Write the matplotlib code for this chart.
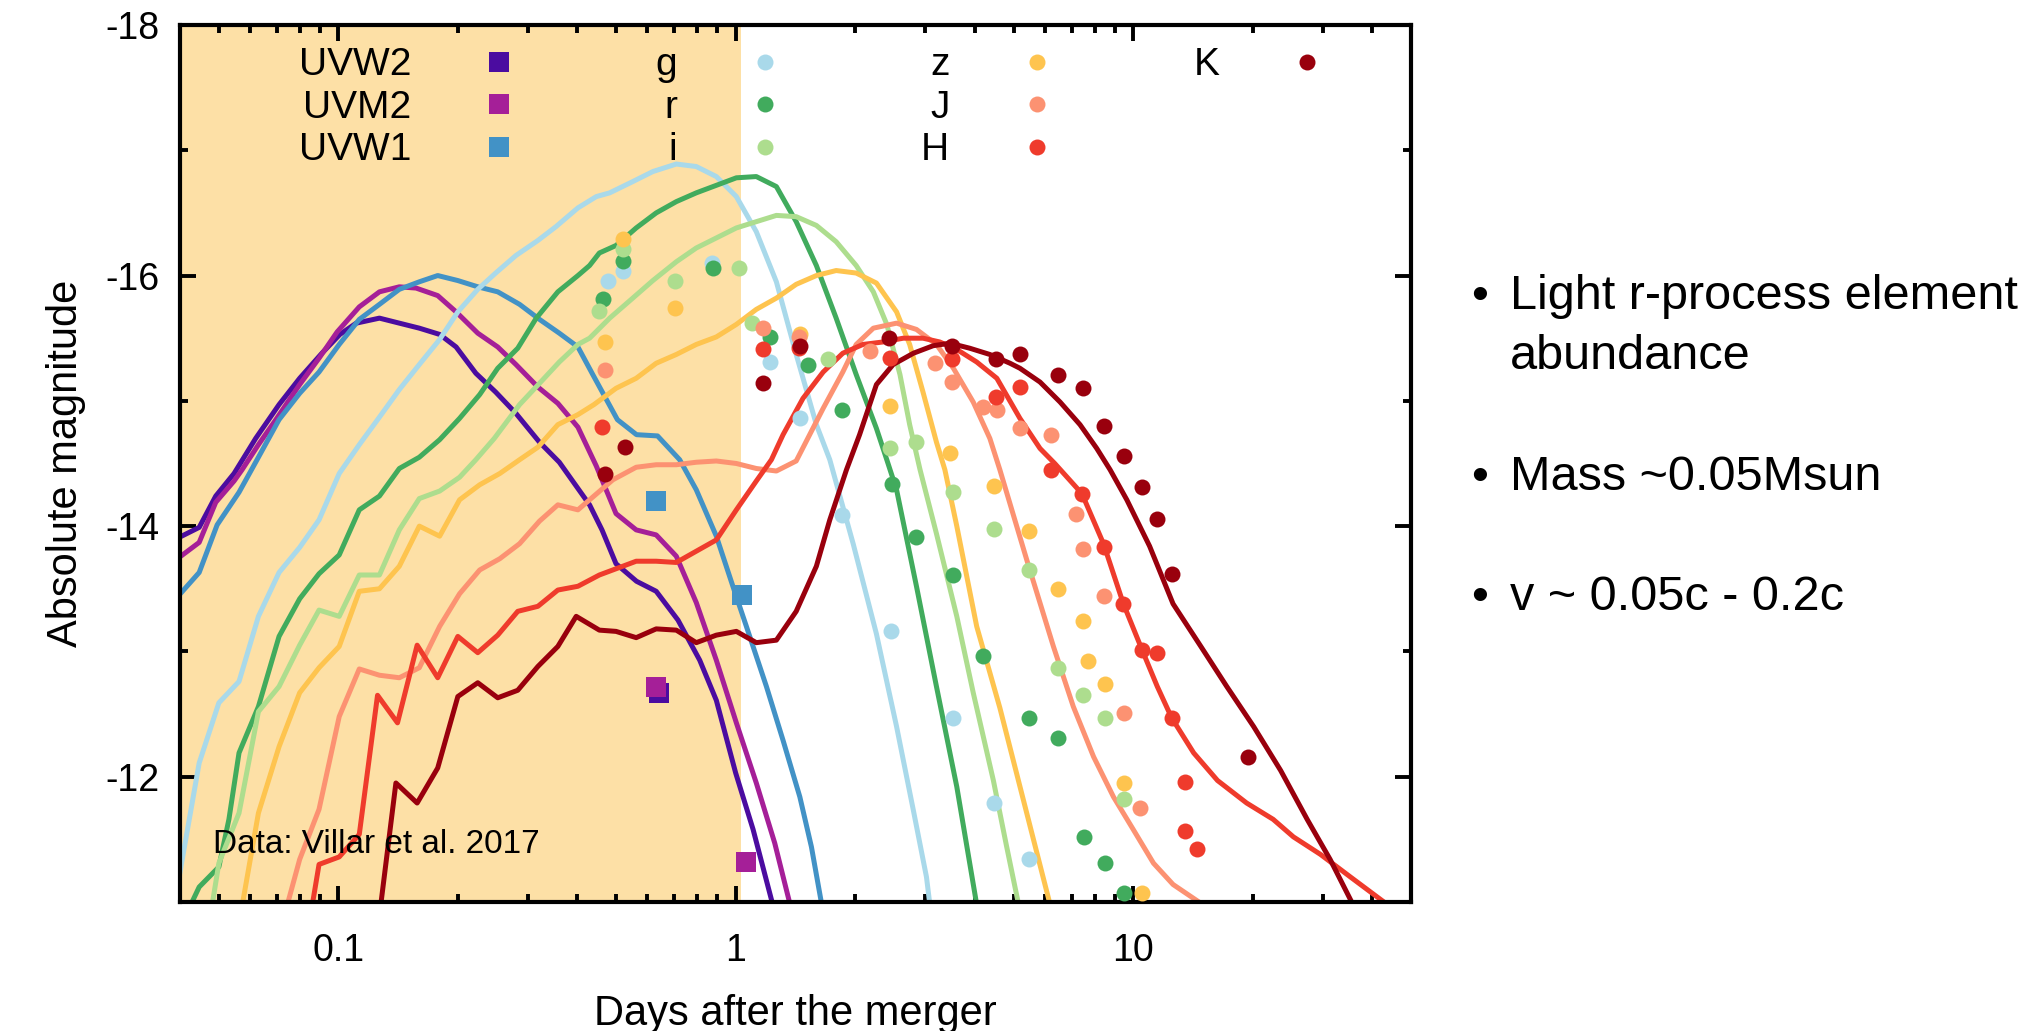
import matplotlib.pyplot as plt
from matplotlib.lines import Line2D
from matplotlib.ticker import FixedLocator, LogLocator, NullFormatter

plt.rcParams['font.family'] = ['Liberation Sans', 'DejaVu Sans']
plt.rcParams['axes.unicode_minus'] = False

bands = ['UVW2', 'UVM2', 'UVW1', 'g', 'r', 'i', 'z', 'J', 'H', 'K']
colors = ['#4b0ca0', '#a51f98', '#4292c6', '#a9d9ea', '#41ab5d',
          '#addd8e', '#fec44f', '#fc9272', '#ef3b2c', '#99000d']
markers = ['s', 's', 's', 'o', 'o', 'o', 'o', 'o', 'o', 'o']

# model light curves: days after merger, absolute magnitude
uvw2_t = [0.0398, 0.0447, 0.0492, 0.0547, 0.062, 0.071, 0.080, 0.091, 0.101, 0.111, 0.127,
          0.1425, 0.160, 0.180, 0.198, 0.222, 0.249, 0.280, 0.321, 0.360, 0.395, 0.429,
          0.461, 0.50, 0.563, 0.631, 0.716, 0.812, 0.894, 1.0, 1.106, 1.23, 1.26]
uvw2_m = [-13.91, -13.99, -14.24, -14.42, -14.70, -14.97, -15.18, -15.38, -15.53, -15.62, -15.66,
          -15.62, -15.58, -15.53, -15.43, -15.22, -15.07, -14.90, -14.67, -14.51, -14.33, -14.17,
          -13.97, -13.70, -13.56, -13.48, -13.25, -12.93, -12.61, -12.03, -11.58, -11.02, -10.9]

uvm2_t = [0.0398, 0.0447, 0.0492, 0.0547, 0.0573, 0.063, 0.0697, 0.080, 0.0895, 0.0994, 0.113,
          0.127, 0.1425, 0.157, 0.178, 0.198, 0.2245, 0.252, 0.280, 0.318, 0.357, 0.401,
          0.446, 0.50, 0.562, 0.631, 0.709, 0.796, 0.894, 1.004, 1.127, 1.254, 1.368]
uvm2_m = [-13.75, -13.87, -14.19, -14.36, -14.45, -14.65, -14.85, -15.13, -15.34, -15.55, -15.75,
          -15.87, -15.91, -15.90, -15.84, -15.71, -15.54, -15.43, -15.29, -15.11, -14.98, -14.79,
          -14.48, -14.10, -13.97, -13.93, -13.76, -13.39, -12.93, -12.43, -11.95, -11.47, -10.99]

uvw1_t = [0.0398, 0.0447, 0.0496, 0.0563, 0.0625, 0.071, 0.080, 0.0895, 0.1006, 0.113,
          0.127, 0.1425, 0.160, 0.178, 0.200, 0.2245, 0.252, 0.286, 0.321, 0.360,
          0.401, 0.437, 0.504, 0.563, 0.636, 0.723, 0.796, 0.894, 0.984, 1.064,
          1.195, 1.316, 1.45, 1.551, 1.644]
uvw1_m = [-13.45, -13.63, -14.01, -14.27, -14.53, -14.85, -15.06, -15.23, -15.45, -15.65,
          -15.77, -15.89, -15.95, -16.00, -15.96, -15.91, -15.87, -15.77, -15.65, -15.54,
          -15.43, -15.21, -14.85, -14.73, -14.72, -14.53, -14.29, -13.92, -13.52, -13.20,
          -12.72, -12.29, -11.84, -11.44, -10.99]

g_t = [0.0398, 0.0447, 0.0501, 0.0563, 0.063, 0.071, 0.080, 0.0895, 0.1006, 0.113,
       0.127, 0.1425, 0.160, 0.180, 0.200, 0.2245, 0.249, 0.280, 0.318, 0.353,
       0.401, 0.446, 0.482, 0.551, 0.619, 0.709, 0.796, 0.894, 1.004, 1.127,
       1.266, 1.42, 1.596, 1.725, 1.975, 2.26, 2.54, 2.80, 3.02, 3.08]
g_m = [-11.20, -12.11, -12.59, -12.76, -13.28, -13.63, -13.83, -14.05, -14.42, -14.65,
       -14.87, -15.09, -15.29, -15.49, -15.71, -15.89, -16.02, -16.16, -16.28, -16.39,
       -16.54, -16.63, -16.66, -16.75, -16.83, -16.89, -16.87, -16.79, -16.63, -16.35,
       -15.95, -15.37, -14.81, -14.53, -13.86, -13.14, -12.40, -11.73, -11.20, -10.98]

r_t = [0.0426, 0.0447, 0.0501, 0.0531, 0.0563, 0.063, 0.071, 0.080, 0.0895, 0.1006,
       0.113, 0.127, 0.1425, 0.160, 0.180, 0.202, 0.227, 0.252, 0.283, 0.315,
       0.357, 0.401, 0.429, 0.454, 0.50, 0.562, 0.631, 0.709, 0.796, 0.894,
       1.004, 1.127, 1.266, 1.42, 1.596, 1.79, 2.01, 2.26, 2.40, 2.54,
       2.85, 3.20, 3.60, 4.04]
r_m = [-10.98, -11.12, -11.28, -11.66, -12.19, -12.56, -13.12, -13.42, -13.62, -13.77,
       -14.13, -14.24, -14.46, -14.55, -14.69, -14.86, -15.05, -15.26, -15.42, -15.66,
       -15.87, -16.00, -16.08, -16.18, -16.24, -16.38, -16.50, -16.59, -16.66, -16.72,
       -16.78, -16.79, -16.71, -16.43, -16.08, -15.66, -15.21, -14.78, -14.53, -14.29,
       -13.52, -12.72, -11.92, -10.98]

i_t = [0.0482, 0.0501, 0.0563, 0.063, 0.071, 0.080, 0.0895, 0.1006, 0.113, 0.127,
       0.1425, 0.160, 0.180, 0.202, 0.222, 0.247, 0.286, 0.321, 0.360, 0.401,
       0.429, 0.482, 0.551, 0.619, 0.709, 0.796, 0.894, 1.004, 1.127, 1.266,
       1.42, 1.596, 1.79, 2.01, 2.22, 2.40, 2.59, 2.74, 2.91, 3.20,
       3.60, 3.96, 4.45, 4.80, 5.15]
i_m = [-10.98, -11.31, -11.71, -12.52, -12.72, -13.05, -13.33, -13.28, -13.61, -13.61,
       -13.97, -14.22, -14.28, -14.39, -14.53, -14.70, -14.97, -15.14, -15.31, -15.45,
       -15.50, -15.66, -15.82, -15.96, -16.11, -16.22, -16.30, -16.38, -16.43, -16.48,
       -16.47, -16.40, -16.27, -16.08, -15.87, -15.61, -15.21, -14.81, -14.45, -13.94,
       -13.28, -12.67, -11.97, -11.45, -10.98]

z_t = [0.0574, 0.063, 0.071, 0.080, 0.0895, 0.1006, 0.113, 0.127, 0.1425, 0.160,
       0.180, 0.202, 0.227, 0.255, 0.286, 0.318, 0.357, 0.401, 0.44, 0.50,
       0.562, 0.631, 0.709, 0.796, 0.894, 1.004, 1.127, 1.266, 1.42, 1.596,
       1.79, 2.01, 2.26, 2.54, 2.74, 2.96, 3.20, 3.36, 3.60, 4.04,
       4.62, 6.18]
z_m = [-10.98, -11.71, -12.24, -12.67, -12.87, -13.04, -13.48, -13.50, -13.68, -14.00,
       -13.92, -14.21, -14.33, -14.42, -14.53, -14.63, -14.81, -14.89, -14.97, -15.10,
       -15.18, -15.30, -15.37, -15.45, -15.51, -15.61, -15.73, -15.82, -15.93, -16.00,
       -16.04, -16.02, -15.94, -15.71, -15.45, -15.07, -14.67, -14.45, -14.00, -13.20,
       -12.55, -10.98]

j_t = [0.0745, 0.080, 0.0895, 0.1006, 0.113, 0.127, 0.1425, 0.160, 0.180, 0.202,
       0.227, 0.255, 0.286, 0.321, 0.357, 0.401, 0.429, 0.491, 0.562, 0.631,
       0.709, 0.796, 0.894, 1.004, 1.127, 1.266, 1.42, 1.66, 1.86, 2.01,
       2.22, 2.54, 2.85, 3.20, 3.53, 3.96, 4.36, 4.62, 5.40, 6.30,
       7.07, 7.95, 8.92, 10.0, 11.25, 12.6, 14.8]
j_m = [-10.98, -11.34, -11.74, -12.48, -12.86, -12.81, -12.79, -12.87, -13.20, -13.46,
       -13.65, -13.74, -13.86, -14.04, -14.17, -14.13, -14.21, -14.37, -14.47, -14.49,
       -14.49, -14.51, -14.52, -14.50, -14.46, -14.44, -14.52, -14.94, -15.23, -15.45,
       -15.58, -15.62, -15.57, -15.45, -15.26, -14.99, -14.70, -14.45, -13.73, -13.04,
       -12.56, -12.16, -11.84, -11.58, -11.31, -11.14, -10.99]

h_t = [0.0861, 0.0895, 0.1006, 0.113, 0.1256, 0.141, 0.158, 0.178, 0.200, 0.2245,
       0.252, 0.283, 0.318, 0.357, 0.401, 0.454, 0.562, 0.631, 0.709, 0.796,
       0.894, 1.004, 1.127, 1.23, 1.316, 1.477, 1.66, 1.86, 2.09, 2.35,
       2.64, 2.96, 3.26, 3.60, 4.04, 4.54, 5.19, 5.83, 6.35, 7.43,
       8.42, 9.45, 10.6, 11.5, 12.5, 14.2, 16.3, 19.3, 22.5, 25.3,
       29.6, 35.2, 43.6]
h_m = [-10.98, -11.30, -11.36, -11.54, -12.65, -12.43, -13.05, -12.79, -13.12, -12.99,
       -13.13, -13.32, -13.36, -13.49, -13.52, -13.61, -13.72, -13.72, -13.71, -13.80,
       -13.89, -14.13, -14.36, -14.53, -14.73, -15.02, -15.23, -15.38, -15.45, -15.47,
       -15.50, -15.50, -15.47, -15.41, -15.31, -15.18, -14.86, -14.62, -14.50, -14.26,
       -13.86, -13.38, -12.99, -12.72, -12.47, -12.19, -11.97, -11.79, -11.66, -11.52,
       -11.38, -11.20, -10.98]

k_t = [0.128, 0.1397, 0.158, 0.178, 0.200, 0.2245, 0.252, 0.283, 0.318, 0.357,
       0.397, 0.454, 0.50, 0.562, 0.631, 0.709, 0.796, 0.894, 1.004, 1.127,
       1.266, 1.42, 1.596, 1.725, 1.90, 2.05, 2.26, 2.49, 2.80, 3.14,
       3.46, 3.88, 4.36, 4.90, 5.19, 5.83, 6.55, 7.35, 8.10, 8.75,
       9.64, 11.0, 12.6, 14.8, 17.2, 20.1, 23.5, 27.4, 31.3, 35.2]
k_m = [-10.98, -11.95, -11.79, -12.07, -12.64, -12.75, -12.63, -12.69, -12.88, -13.04,
       -13.28, -13.17, -13.16, -13.11, -13.18, -13.17, -13.07, -13.13, -13.16, -13.07,
       -13.09, -13.32, -13.68, -14.05, -14.45, -14.73, -15.13, -15.29, -15.38, -15.44,
       -15.46, -15.42, -15.37, -15.30, -15.26, -15.15, -14.99, -14.81, -14.62, -14.45,
       -14.21, -13.84, -13.38, -13.04, -12.72, -12.40, -12.05, -11.66, -11.34, -11.02]

# observed photometry (Villar et al. 2017)
uvw2_obs_t = [0.643]
uvw2_obs_m = [-12.67]
uvm2_obs_t = [0.629, 1.064]
uvm2_obs_m = [-12.72, -11.32]
uvw1_obs_t = [0.631, 1.04]
uvw1_obs_m = [-14.20, -13.45]
g_obs_t = [0.477, 0.52, 0.874, 1.22, 1.45, 1.85, 2.46, 3.53, 4.47, 5.48]
g_obs_m = [-15.96, -16.04, -16.10, -15.31, -14.86, -14.09, -13.16, -12.47, -11.79, -11.34]
r_obs_t = [0.463, 0.52, 0.877, 1.22, 1.52, 1.85, 2.48, 2.84, 3.53, 4.20, 5.48, 6.48, 7.54, 8.50, 9.49]
r_obs_m = [-15.81, -16.12, -16.06, -15.51, -15.29, -14.93, -14.34, -13.91, -13.61, -12.96,
           -12.47, -12.31, -11.52, -11.31, -11.07]
i_obs_t = [0.453, 0.52, 0.702, 1.02, 1.10, 1.71, 2.44, 2.84, 3.53, 4.47, 5.47, 6.46, 7.50, 8.50, 9.51]
i_obs_m = [-15.72, -16.21, -15.96, -16.06, -15.62, -15.33, -14.62, -14.67, -14.27, -13.98,
           -13.65, -12.87, -12.65, -12.47, -11.82]
z_obs_t = [0.470, 0.52, 0.702, 1.45, 2.44, 3.46, 4.47, 5.47, 6.46, 7.47, 7.72, 8.50, 9.49, 10.5]
z_obs_m = [-15.47, -16.29, -15.74, -15.53, -14.96, -14.58, -14.32, -13.96, -13.50, -13.24,
           -12.92, -12.74, -11.95, -11.07]
j_obs_t = [0.470, 1.17, 1.44, 2.18, 3.17, 3.51, 4.20, 4.54, 5.19, 6.22, 7.18, 7.50, 8.47, 9.49, 10.4]
j_obs_m = [-15.25, -15.58, -15.51, -15.40, -15.30, -15.15, -14.95, -14.93, -14.78, -14.73,
           -14.10, -13.82, -13.44, -12.51, -11.75]
h_obs_t = [0.462, 1.17, 1.44, 2.44, 3.51, 4.51, 5.19, 6.22, 7.43, 8.47, 9.45, 10.5, 11.5,
           12.5, 13.5, 13.5, 14.5]
h_obs_m = [-14.79, -15.41, -15.42, -15.34, -15.33, -15.03, -15.11, -14.45, -14.26, -13.83,
           -13.38, -13.01, -12.99, -12.47, -11.96, -11.57, -11.42]
k_obs_t = [0.468, 0.526, 1.17, 1.45, 2.43, 3.51, 4.51, 5.19, 6.48, 7.47, 8.47, 9.49, 10.5,
           11.5, 12.5, 19.5]
k_obs_m = [-14.42, -14.63, -15.14, -15.44, -15.50, -15.44, -15.33, -15.37, -15.21, -15.10,
           -14.80, -14.56, -14.31, -14.06, -13.62, -12.16]

model_t = [uvw2_t, uvm2_t, uvw1_t, g_t, r_t, i_t, z_t, j_t, h_t, k_t]
model_m = [uvw2_m, uvm2_m, uvw1_m, g_m, r_m, i_m, z_m, j_m, h_m, k_m]
obs_t = [uvw2_obs_t, uvm2_obs_t, uvw1_obs_t, g_obs_t, r_obs_t, i_obs_t,
         z_obs_t, j_obs_t, h_obs_t, k_obs_t]
obs_m = [uvw2_obs_m, uvm2_obs_m, uvw1_obs_m, g_obs_m, r_obs_m, i_obs_m,
         z_obs_m, j_obs_m, h_obs_m, k_obs_m]

fig = plt.figure(figsize=(20.34, 10.31), dpi=100)
ax = fig.add_axes([0.0885, 0.1251, 0.6052, 0.8507])

# first day after the merger
ax.axvspan(0.01, 1.03, color='#fde0a6', lw=0, zorder=0)

for t, m, c in zip(model_t, model_m, colors):
    ax.plot(t, m, color=c, lw=3.6, zorder=2)

handles = []
for t, m, c, mk, name in zip(obs_t, obs_m, colors, markers, bands):
    size = 14 if mk == 's' else 11.5
    h, = ax.plot(t, m, ls='none', marker=mk, ms=size, color=c, mew=0, zorder=3, label=name)
    handles.append(h)

ax.set_xscale('log')
ax.set_xlim(0.04, 50)
ax.set_ylim(-11, -18)

ax.xaxis.set_major_locator(FixedLocator([0.1, 1, 10]))
ax.xaxis.set_minor_locator(LogLocator(base=10, subs=range(2, 10)))
ax.xaxis.set_minor_formatter(NullFormatter())
ax.set_xticklabels(['0.1', '1', '10'])
ax.yaxis.set_major_locator(FixedLocator([-18, -16, -14, -12]))
ax.yaxis.set_minor_locator(FixedLocator([-17, -15, -13]))
ax.set_yticklabels(['-18', '-16', '-14', '-12'])

ax.tick_params(which='both', direction='in', top=True, right=True, width=2.8)
ax.tick_params(which='major', length=11.5, labelsize=27)
ax.tick_params(axis='x', which='major', pad=22)
ax.tick_params(axis='y', which='major', pad=15)
ax.tick_params(which='minor', length=6)
for s in ax.spines.values():
    s.set_linewidth(3)

ax.set_xlabel('Days after the merger', fontsize=30, labelpad=18)
ax.set_ylabel('Absolute magnitude', fontsize=30, labelpad=14)

# two empty slots so K sits alone in the last column
blank = Line2D([], [], ls='none', marker='none')
ax.legend(handles=handles + [blank, blank], labels=bands + ['', ''], ncol=4,
          markerfirst=False, frameon=False,
          loc='upper left', bbox_to_anchor=(0.0964, 0.9747), borderaxespad=0,
          borderpad=0, handlelength=2.0, handletextpad=1.25, columnspacing=3.03,
          labelspacing=0.17, fontsize=28)

ax.text(0.0268, 0.0555, 'Data: Villar et al. 2017', transform=ax.transAxes,
        fontsize=24, va='baseline', ha='left')

notes = [('Light r-process element', 309), ('abundance', 369),
         ('Mass ~0.05Msun', 490), ('v ~ 0.05c - 0.2c', 610)]
for txt, base in notes:
    yy = 1 - base / 1031
    fig.text(1510 / 2034, yy, txt, fontsize=35, va='baseline', ha='left')
    if txt != 'abundance':
        fig.text(1480 / 2034, yy, '\u2022', fontsize=35, va='baseline', ha='center')

fig.savefig('out.png', dpi=100)
